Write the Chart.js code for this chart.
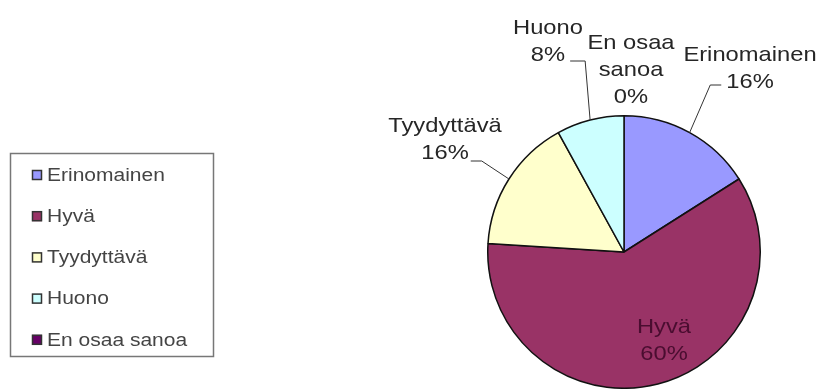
<!DOCTYPE html>
<html>
<head>
<meta charset="utf-8">
<script src="https://cdn.jsdelivr.net/npm/chart.js"></script>
<style>
  html, body { margin: 0; padding: 0; background: #fff; }
  canvas { display: block; }
</style>
</head>
<body>
<canvas id="myChart" width="822" height="389"></canvas>
<script>
// Survey answers
var categories = ['Erinomainen', 'Hyvä', 'Tyydyttävä', 'Huono', 'En osaa sanoa'];
var values = [16, 60, 16, 8, 0];
var colors = ['#9999ff', '#993366', '#ffffcc', '#ccffff', '#660066'];

// Where each slice label sits, relative to the pie centre (dx, dy of first line)
// leader: which side of the text the line from the slice edge comes in on
var labelPlace = [
  { dx: 126, dy: -197, leader: 'right' },
  { dx: 40, dy: 75, leader: null },
  { dx: -179, dy: -126, leader: 'left' },
  { dx: -76, dy: -224, leader: 'left' },
  { dx: 7, dy: -209, leader: null }
];

var LABEL_FONT = '21px "Liberation Sans", Arial, sans-serif';
var LABEL_SX = 1.13;
var LINE_H = 27;

function stretchText(ctx, text, x, y, sx) {
  ctx.save();
  ctx.translate(x, y);
  ctx.scale(sx, 1);
  ctx.fillText(text, 0, 0);
  ctx.restore();
}

function textWidth(ctx, text, sx) {
  return ctx.measureText(text).width * sx;
}

var total = values.reduce(function (a, b) { return a + b; }, 0);

var sliceLabels = {
  id: 'sliceLabels',
  afterDraw: function (chart) {
    var ctx = chart.ctx;
    var meta = chart.getDatasetMeta(0);
    ctx.save();
    ctx.font = LABEL_FONT;
    ctx.textBaseline = 'middle';
    ctx.textAlign = 'center';
    meta.data.forEach(function (arc, i) {
      var p = arc.getProps(['x', 'y', 'startAngle', 'endAngle', 'outerRadius'], true);
      var place = labelPlace[i];
      var pct = Math.round(values[i] / total * 100) + '%';
      var lines = categories[i] === 'En osaa sanoa' ? ['En osaa', 'sanoa', pct] : [categories[i], pct];
      var tx = p.x + place.dx;
      var ty = p.y + place.dy;
      ctx.fillStyle = i === 1 ? '#4a0d30' : '#262626';
      lines.forEach(function (line, k) {
        stretchText(ctx, line, tx, ty + k * LINE_H, LABEL_SX);
      });

      if (place.leader) {
        var mid = (p.startAngle + p.endAngle) / 2;
        var ex = p.x + Math.cos(mid) * p.outerRadius;
        var ey = p.y + Math.sin(mid) * p.outerRadius;
        var last = lines[lines.length - 1];
        var half = textWidth(ctx, last, LABEL_SX) / 2;
        var ly = ty + (lines.length - 1) * LINE_H + 3;
        ctx.strokeStyle = '#333';
        ctx.lineWidth = 1;
        ctx.beginPath();
        ctx.moveTo(ex, ey);
        if (place.leader === 'right') {
          ctx.lineTo(tx - half - 16, ly);
          ctx.lineTo(tx - half - 5, ly);
        } else if (i === 3) {
          ctx.lineTo(tx + half + 20, ly + 3);
          ctx.lineTo(tx + half + 5, ly + 3);
        } else {
          ctx.lineTo(tx + half + 13, ly + 5);
          ctx.lineTo(tx + half + 2, ly + 5);
        }
        ctx.stroke();
      }
    });
    ctx.restore();
  }
};

// Boxed legend on the left
var boxLegend = {
  id: 'boxLegend',
  afterDraw: function (chart) {
    var ctx = chart.ctx;
    ctx.save();
    ctx.strokeStyle = '#777';
    ctx.lineWidth = 1.5;
    ctx.strokeRect(10.5, 153.5, 203, 203);
    ctx.font = '17.5px "Liberation Sans", Arial, sans-serif';
    ctx.textBaseline = 'middle';
    ctx.textAlign = 'left';
    categories.forEach(function (name, i) {
      var cy = 175 + i * 41.2;
      ctx.fillStyle = colors[i];
      ctx.fillRect(32, cy - 5, 10, 10);
      ctx.strokeStyle = '#333';
      ctx.lineWidth = 1.5;
      ctx.strokeRect(32.5, cy - 4.5, 9, 9);
      ctx.fillStyle = '#444';
      stretchText(ctx, name, 47, cy + 1, 1.2);
    });
    ctx.restore();
  }
};

var ctx = document.getElementById('myChart').getContext('2d');
var myChart = new Chart(ctx, {
  type: 'pie',
  data: {
    labels: categories,
    datasets: [{
      data: values,
      backgroundColor: colors,
      borderColor: '#111',
      borderWidth: 1.5,
      hoverOffset: 0
    }]
  },
  options: {
    responsive: false,
    animation: false,
    events: [],
    layout: { padding: { left: 487, right: 61, top: 115, bottom: 0 } },
    plugins: {
      legend: { display: false },
      tooltip: { enabled: false }
    }
  },
  plugins: [sliceLabels, boxLegend]
});
</script>
</body>
</html>
